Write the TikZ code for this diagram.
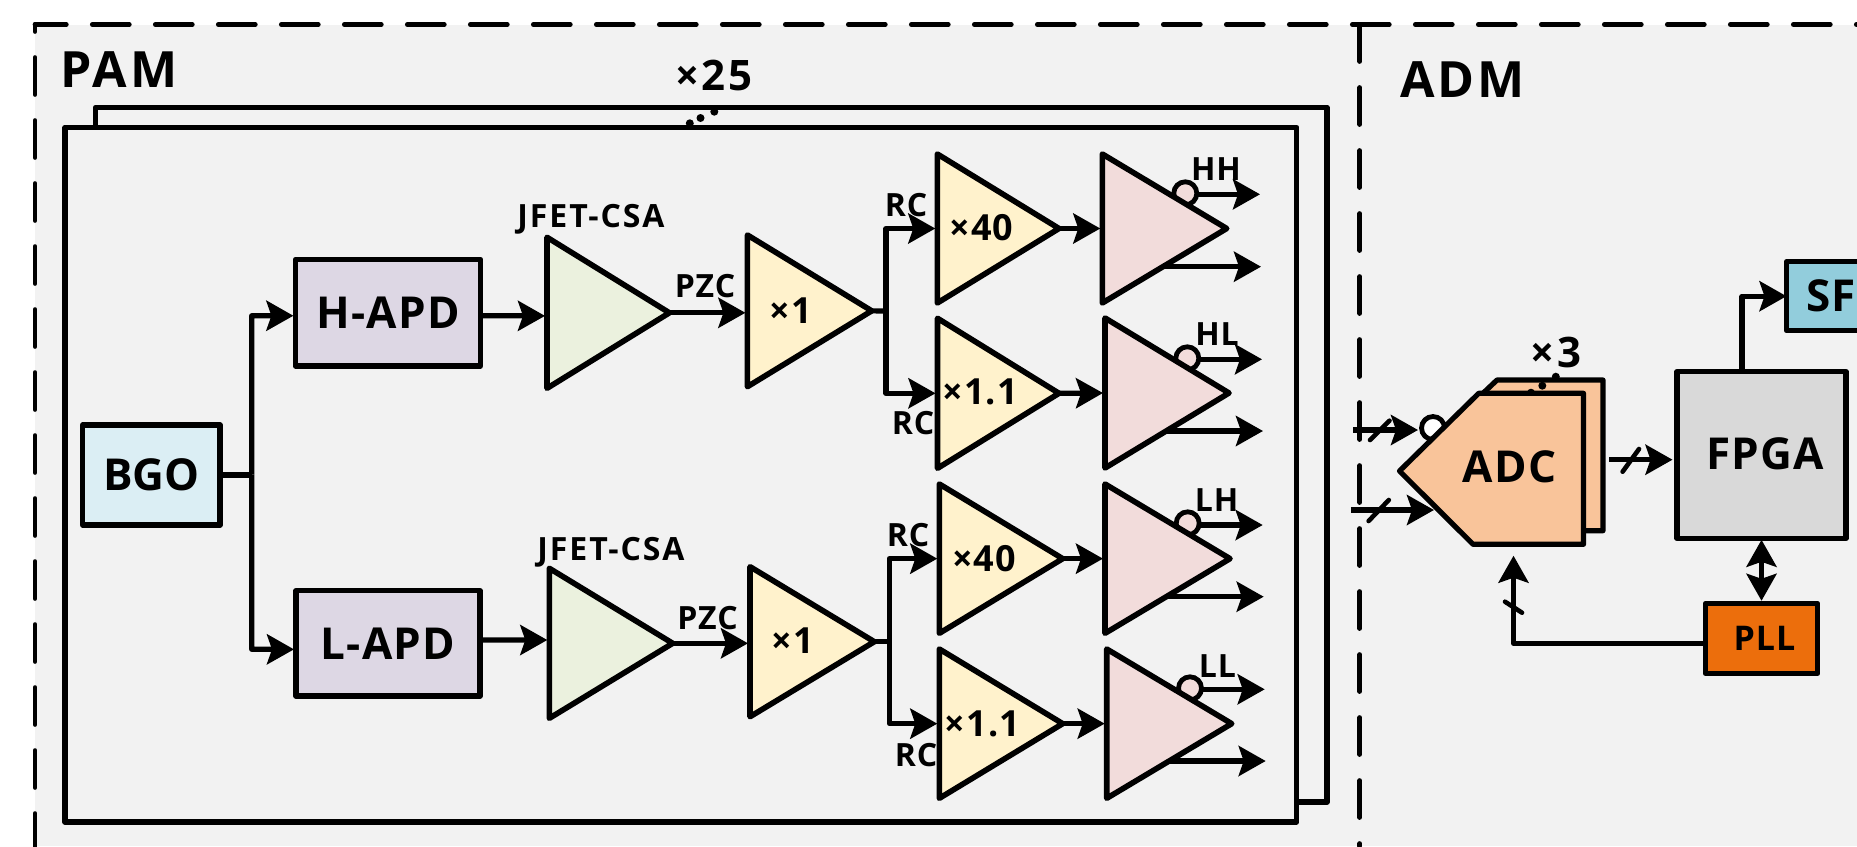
\documentclass[tikz,border=0pt]{standalone}
\usepackage{fontspec}
\setmainfont{Open Sans}[LetterSpace=3]
\usetikzlibrary{arrows.meta}
\definecolor{bgc}{HTML}{F2F2F2}
\definecolor{bgoc}{HTML}{DBEEF4}
\definecolor{apdc}{HTML}{DDD7E4}
\definecolor{csac}{HTML}{EBF1DE}
\definecolor{yelc}{HTML}{FFF2CC}
\definecolor{pinkc}{HTML}{F2DCDB}
\definecolor{adcc}{HTML}{F9C49A}
\definecolor{fpgac}{HTML}{D9D9D9}
\definecolor{pllc}{HTML}{EC6E0C}
\definecolor{sfc}{HTML}{92CDDC}
\tikzset{
  px/.style={x=1pt,y=-1pt},
  ln/.style={line width=5.2pt,line join=round},
  dashln/.style={line width=4.7pt,line cap=round,dash pattern=on 37pt off 26pt},
  boxst/.style={draw=black,ln,rectangle,inner sep=0pt,outer sep=0pt},
  ampst/.style={draw=black,line width=5.6pt,line join=round},
  bubble/.style={draw=black,line width=4.8pt,circle,inner sep=0pt,outer sep=0pt,minimum size=23pt},
  headst/.style={Stealth[length=27pt,width=30pt,inset=5pt]},
  arr/.style={ln,-{Stealth[length=27pt,width=30pt,inset=5pt]},shorten >=2pt},
  darr/.style={ln,{Stealth[length=27pt,width=30pt,inset=5pt]}-{Stealth[length=27pt,width=30pt,inset=5pt]}},
  plain/.style={ln},
  tickln/.style={line width=4.6pt,line cap=round},
  t50/.style={font=\bfseries\fontsize{50}{50}\selectfont\addfontfeature{LetterSpace=6},inner sep=0pt,anchor=base},
  t40/.style={font=\bfseries\fontsize{42}{42}\selectfont\addfontfeature{LetterSpace=6},inner sep=0pt,anchor=base},
  t36/.style={font=\bfseries\fontsize{36}{36}\selectfont,inner sep=0pt,anchor=base},
  t32/.style={font=\bfseries\fontsize{32}{32}\selectfont,inner sep=0pt,anchor=base},
  t32w/.style={font=\bfseries\fontsize{32}{32}\selectfont\addfontfeature{LetterSpace=6},inner sep=0pt,anchor=base},
}
\newcommand{\bx}[7]{\node[boxst,fill=#6,minimum width={(#4-#2)*1pt},minimum height={(#5-#3)*1pt}] (#1) at ({(#2+#4)/2},{(#3+#5)/2}) {#7};}
% amplifier triangle: name, left x, top y, bottom y, apex x, fill; defines (namein) and (nameout)
\newcommand{\amp}[6]{\filldraw[ampst,fill=#6] (#2,#3) -- (#5,{(#3+#4)/2}) -- (#2,#4) -- cycle;
  \coordinate (#1in) at (#2,{(#3+#4)/2}); \coordinate (#1out) at (#5,{(#3+#4)/2});}
\newcommand{\tick}[4]{\draw[tickln] (#1,#2) -- (#3,#4);}
\begin{document}
\begin{tikzpicture}[px]
\useasboundingbox (0,0) rectangle (1857,846);
\clip (0,0) rectangle (1857,846);
\fill[white] (0,0) rectangle (1857,846);
\fill[bgc] (35,24.5) rectangle (1857,846);
% frames
\draw[dashln,dash phase=5.7pt] (35,24.5) -- (1857,24.5);
\draw[dashln,dash phase=30pt] (35,24.5) -- (35,846);
\draw[dashln] (1359.7,24.5) -- (1359.7,846);
\node[t50] (pam) at (119,87) {PAM};
\node[t50] (adm) at (1462.5,97.7) {ADM};
% stacked boards
\bx{boardb}{95.4}{107.3}{1327}{802}{bgc}{}
\foreach \p in {(689.8,123.3),(700.5,118),(714.3,111.7)} \fill \p circle (4pt);
\bx{board}{65}{127.3}{1296.8}{822}{bgc}{}
\node[t40] (n25) at (714,90) {×25};
% sources
\bx{bgo}{82.7}{425}{220}{525}{bgoc}{\fontsize{44}{44}\bfseries\selectfont\addfontfeature{LetterSpace=0}BGO}
\bx{hapd}{295.4}{259.3}{480.6}{366}{apdc}{\fontsize{44}{44}\bfseries\selectfont H-APD}
\bx{lapd}{296}{590.7}{480}{696}{apdc}{\fontsize{44}{44}\bfseries\selectfont L-APD}
% bubbles behind comparators
\node[bubble,fill=pinkc] (bhh) at (1185.3,193.3) {};
\node[bubble,fill=pinkc] (bhl) at (1187.3,358.3) {};
\node[bubble,fill=pinkc] (blh) at (1187.7,523.3) {};
\node[bubble,fill=pinkc] (bll) at (1190,688.3) {};
% amplifiers
\amp{jh}{547}{237.3}{388.3}{669.4}{csac}
\amp{bh}{747.4}{235}{386.7}{871.7}{yelc}
\amp{ahh}{937.3}{154}{303}{1059}{yelc}
\amp{ahl}{937.5}{318.3}{468.3}{1059}{yelc}
\amp{chh}{1102.3}{154}{303}{1226.7}{pinkc}
\amp{chl}{1105}{318}{468}{1229}{pinkc}
\amp{jl}{549.3}{568.3}{718.3}{672.7}{csac}
\amp{bl}{750}{566.7}{716.7}{874.3}{yelc}
\amp{alh}{939.3}{484}{633.3}{1062.7}{yelc}
\amp{all}{939.3}{649}{798.3}{1062.7}{yelc}
\amp{clh}{1105}{484}{633.3}{1230}{pinkc}
\amp{cll}{1106.7}{649}{798.3}{1231.7}{pinkc}
% labels
\node[t32w] (jfa) at (591,227) {JFET-CSA};
\node[t32w] (jfb) at (611,560) {JFET-CSA};
\node[t32] (pza) at (705,297.5) {PZC};
\node[t32] (pzb) at (707.5,629) {PZC};
\node[t36] (xa) at (791,323.5) {×1};
\node[t36] (xb) at (792.5,653.5) {×1};
\node[t32] (rc1) at (906,216) {RC};
\node[t32] (rc2) at (913,434) {RC};
\node[t32] (rc3) at (908,546.7) {RC};
\node[t32] (rc4) at (916,766) {RC};
\node[t36] (g1) at (981.5,240.5) {×40};
\node[t36] (g2) at (980,404.5) {×1.1};
\node[t36] (g3) at (984,571.5) {×40};
\node[t36] (g4) at (982.5,736.5) {×1.1};
\node[t32] (hh) at (1216,180) {HH};
\node[t32] (hl) at (1217,345) {HL};
\node[t32] (lh) at (1216.7,511.7) {LH};
\node[t32] (ll) at (1217.5,677.3) {LL};
% left connectors
\coordinate (splitm) at (251.7,474.7);
\draw[plain] (bgo.east) -- (bgo.east -| splitm);
\draw[arr] (splitm) -- (251.7,315.7) -- ([yshift=-3.1pt]hapd.west);
\draw[arr] (splitm) -- (251.7,649.3) -- ([yshift=-6pt]lapd.west);
\draw[arr] ([yshift=-3.1pt]hapd.east) -- ([yshift=-3.1pt]jhin);
\draw[arr] ([yshift=3.3pt]lapd.east) -- ([yshift=3.3pt]jlin);
\draw[arr] (jhout) -- (jhout -| bhin);
\draw[arr] (jlout) -- (jlout -| blin);
% splits
\coordinate (sa) at (886,311);
\coordinate (sb) at (889.3,641.7);
\draw[plain] (bhout) -- (sa);
\draw[plain] (blout) -- (sb);
\draw[arr] (sa) |- (ahhin);
\draw[arr] (sa) |- (ahlin);
\draw[arr] (sb) |- (alhin);
\draw[arr] (sb) |- (allin);
\draw[arr] (ahhout) -- (chhin);
\draw[arr] (ahlout) -- (chlin);
\draw[arr] (alhout) -- (clhin);
\draw[arr] (allout) -- (cllin);
% comparator outputs
\coordinate (o1) at (1262,194.3); \coordinate (p1) at (1263,266.7); \coordinate (q1) at (1163,266.7);
\coordinate (o2) at (1264,359.3); \coordinate (p2) at (1265,431);   \coordinate (q2) at (1166,431);
\coordinate (o3) at (1264.7,525); \coordinate (p3) at (1265.7,596.7); \coordinate (q3) at (1168,596.7);
\coordinate (o4) at (1266.7,689.3); \coordinate (p4) at (1267.7,761); \coordinate (q4) at (1169,761);
\draw[arr] (o1 -| bhh.east) -- (o1);
\draw[arr] (o2 -| bhl.east) -- (o2);
\draw[arr] (o3 -| blh.east) -- (o3);
\draw[arr] (o4 -| bll.east) -- (o4);
\draw[arr] (q1) -- (p1);
\draw[arr] (q2) -- (p2);
\draw[arr] (q3) -- (p3);
\draw[arr] (q4) -- (p4);
% ADC
\node[bubble,fill=white] (badc) at (1433,428) {};
\filldraw[ln,fill=adcc] (1478,398) -- (1497,380) -- (1603,380) -- (1603,530.7) -- (1570,530.7) -- cycle;
\foreach \p in {(1531,392.7),(1542.3,385.7),(1555.8,376.7)} \fill \p circle (4pt);
\filldraw[ln,fill=adcc] (1399.5,471) -- (1478.7,393.3) -- (1583.5,393.3) -- (1583.5,544.3) -- (1473,544.3) -- cycle;
\node[t36,font=\bfseries\fontsize{44}{44}\selectfont] (adc) at (1509.6,482.7) {ADC};
\node[t40] (n3) at (1556,367.7) {×3};
% right boxes
\bx{fpga}{1677}{371.7}{1846}{538.3}{fpgac}{\raisebox{2pt}{\hspace*{7pt}\fontsize{44}{44}\bfseries\selectfont FPGA}}
\bx{pll}{1705.3}{603.3}{1817.7}{673.3}{pllc}{\hspace*{6pt}\fontsize{34}{34}\bfseries\selectfont PLL}
\bx{sf}{1786.5}{261.7}{1876}{330.7}{sfc}{\fontsize{44}{44}\bfseries\selectfont SF}
% ADM connectors
\coordinate (i1s) at (1353,430); \coordinate (i1t) at (1420,430);
\coordinate (i2s) at (1350.8,510); \coordinate (i2t) at (1436,510);
\draw[arr] (i1s) -- (i1t);
\draw[arr] (i2s) -- (i2t);
\tick{1370}{440}{1389.5}{420.7}
\tick{1368.6}{521}{1388.8}{500}
\coordinate (ao) at (1609,459.7);
\draw[arr,shorten >=4.5pt] (ao) -- (ao -| fpga.west);
\tick{1622.6}{471.7}{1639}{449}
\draw[darr,shorten <=2.5pt,shorten >=1.5pt] (pll.north -| 1761.5,0) -- (fpga.south -| 1761.5,0);
\coordinate (ct) at (1513.5,555.7);
\draw[ln,-{Stealth[length=27pt,width=30pt,inset=5pt]}] (pll.west |- 0,643.3) -| (ct);
\tick{1505}{601.7}{1522}{612.7}
\draw[arr,shorten >=0pt] (fpga.north -| 1742,0) |- (sf.west);
\end{tikzpicture}
\end{document}
